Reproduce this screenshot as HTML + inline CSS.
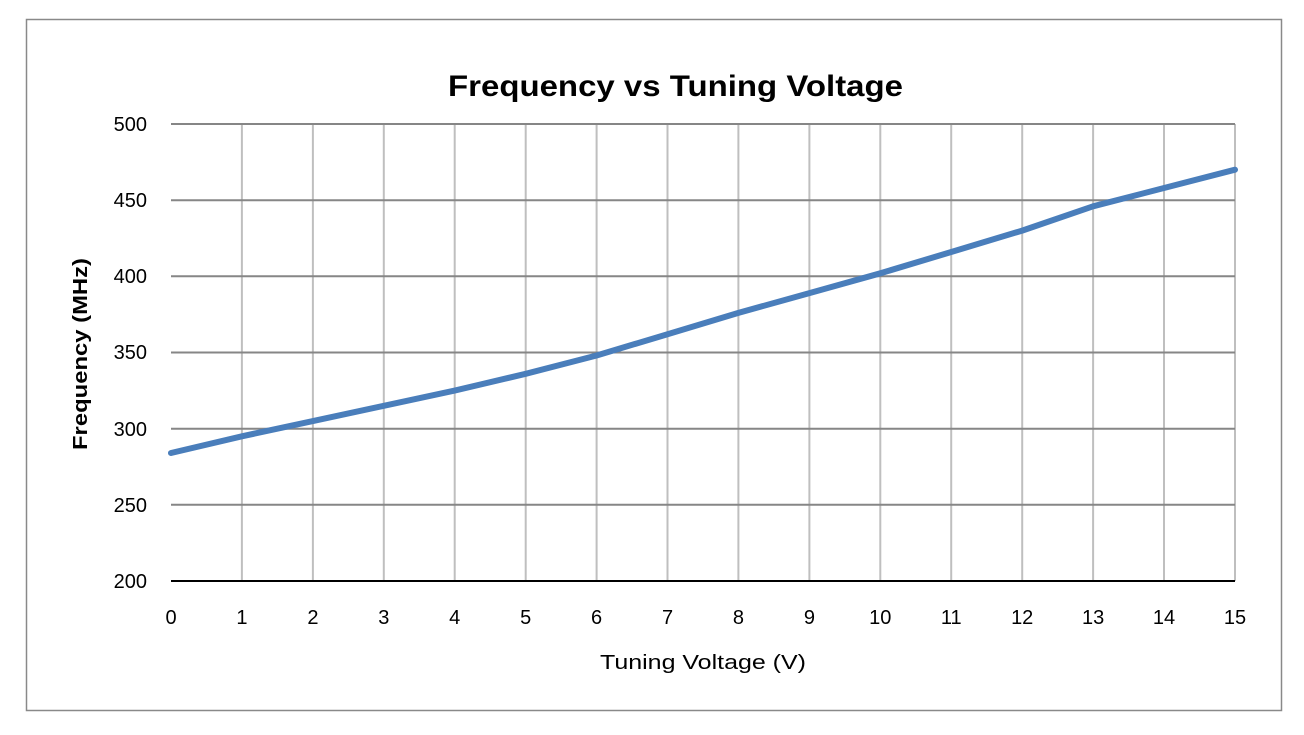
<!DOCTYPE html>
<html><head><meta charset="utf-8"><style>
html,body{margin:0;padding:0;background:#fff;}
svg{display:block;font-family:"Liberation Sans",sans-serif;}
</style></head><body>
<svg width="1304" height="735" viewBox="0 0 1304 735">
<rect x="0" y="0" width="1304" height="735" fill="#fff"/>
<rect x="26.5" y="19.5" width="1255" height="691" fill="#fff" stroke="#898989" stroke-width="1.5"/>
<text x="675.5" y="96" text-anchor="middle" font-size="30" font-weight="bold" fill="#000" textLength="455" lengthAdjust="spacingAndGlyphs">Frequency vs Tuning Voltage</text>
<g stroke="#bfbfbf" stroke-width="2">
<line x1="241.9" y1="124" x2="241.9" y2="581"/><line x1="312.9" y1="124" x2="312.9" y2="581"/>
<line x1="383.8" y1="124" x2="383.8" y2="581"/><line x1="454.7" y1="124" x2="454.7" y2="581"/>
<line x1="525.7" y1="124" x2="525.7" y2="581"/><line x1="596.6" y1="124" x2="596.6" y2="581"/>
<line x1="667.5" y1="124" x2="667.5" y2="581"/><line x1="738.4" y1="124" x2="738.4" y2="581"/>
<line x1="809.4" y1="124" x2="809.4" y2="581"/><line x1="880.3" y1="124" x2="880.3" y2="581"/>
<line x1="951.2" y1="124" x2="951.2" y2="581"/><line x1="1022.2" y1="124" x2="1022.2" y2="581"/>
<line x1="1093.1" y1="124" x2="1093.1" y2="581"/><line x1="1164" y1="124" x2="1164" y2="581"/>
<line x1="1235" y1="124" x2="1235" y2="581"/>
</g>
<g stroke="#868686" stroke-width="2">
<line x1="171" y1="124" x2="1235" y2="124"/><line x1="171" y1="200.2" x2="1235" y2="200.2"/>
<line x1="171" y1="276.3" x2="1235" y2="276.3"/><line x1="171" y1="352.5" x2="1235" y2="352.5"/>
<line x1="171" y1="428.7" x2="1235" y2="428.7"/><line x1="171" y1="504.8" x2="1235" y2="504.8"/>
</g>
<line x1="171" y1="581" x2="1235" y2="581" stroke="#000" stroke-width="2"/>
<polyline fill="none" stroke="#4a7ebb" stroke-width="6" stroke-linejoin="round" stroke-linecap="round"
points="171,453 241.9,436.3 312.9,421.1 383.8,405.8 454.7,390.6 525.7,373.8 596.6,355.5 667.5,334.2 738.4,312.9 809.4,293.1 880.3,273.3 951.2,252 1022.2,230.6 1093.1,206.3 1164,188 1235,169.7"/>
<g font-size="20" fill="#000" text-anchor="end">
<text x="147" y="131">500</text><text x="147" y="207">450</text><text x="147" y="283">400</text>
<text x="147" y="359">350</text><text x="147" y="436">300</text><text x="147" y="512">250</text>
<text x="147" y="588">200</text>
</g>
<g font-size="20" fill="#000" text-anchor="middle">
<text x="171" y="624">0</text><text x="241.9" y="624">1</text><text x="312.9" y="624">2</text>
<text x="383.8" y="624">3</text><text x="454.7" y="624">4</text><text x="525.7" y="624">5</text>
<text x="596.6" y="624">6</text><text x="667.5" y="624">7</text><text x="738.4" y="624">8</text>
<text x="809.4" y="624">9</text><text x="880.3" y="624">10</text><text x="951.2" y="624">11</text>
<text x="1022.2" y="624">12</text><text x="1093.1" y="624">13</text><text x="1164" y="624">14</text>
<text x="1235" y="624">15</text>
</g>
<text x="703" y="669" text-anchor="middle" font-size="20" fill="#000" textLength="206" lengthAdjust="spacingAndGlyphs">Tuning Voltage (V)</text>
<text transform="translate(87,354) rotate(-90)" text-anchor="middle" font-size="20" font-weight="bold" fill="#000" textLength="192" lengthAdjust="spacingAndGlyphs">Frequency (MHz)</text>
</svg>
</body></html>
